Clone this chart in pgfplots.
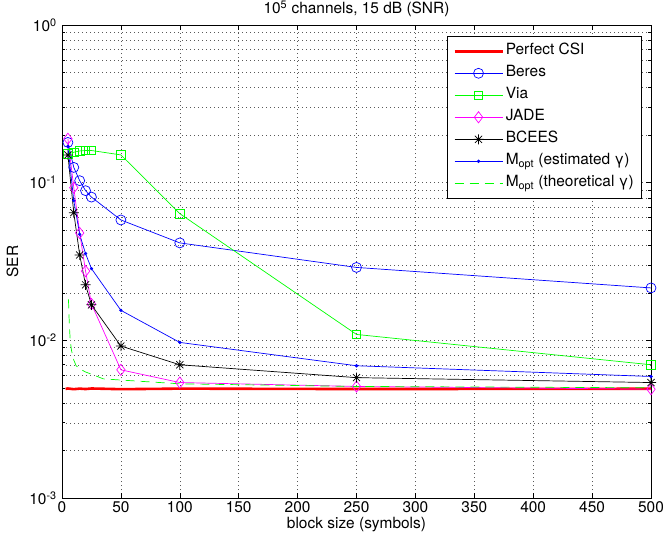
\documentclass[border=0pt]{standalone}
\usepackage{fontspec}
\setmainfont{TeX Gyre Heros}
\usepackage{pgfplots}
\pgfplotsset{compat=1.18}
\definecolor{mgreen}{rgb}{0,1,0}
\definecolor{mmag}{rgb}{1,0,1}
\definecolor{mblue}{rgb}{0,0,1}
\pgfdeclareplotmark{mstar}{%
 \pgfpathmoveto{\pgfqpoint{-\pgfplotmarksize}{0pt}}\pgfpathlineto{\pgfqpoint{\pgfplotmarksize}{0pt}}%
 \pgfpathmoveto{\pgfqpoint{0pt}{-\pgfplotmarksize}}\pgfpathlineto{\pgfqpoint{0pt}{\pgfplotmarksize}}%
 \pgfpathmoveto{\pgfqpoint{-0.707\pgfplotmarksize}{-0.707\pgfplotmarksize}}\pgfpathlineto{\pgfqpoint{0.707\pgfplotmarksize}{0.707\pgfplotmarksize}}%
 \pgfpathmoveto{\pgfqpoint{-0.707\pgfplotmarksize}{0.707\pgfplotmarksize}}\pgfpathlineto{\pgfqpoint{0.707\pgfplotmarksize}{-0.707\pgfplotmarksize}}%
 \pgfusepathqstroke}
\begin{document}
\fontsize{15.5}{18}\selectfont
\begin{tikzpicture}
\useasboundingbox (-62bp,-40bp) rectangle (601bp,498bp);
\begin{axis}[
  at={(0,0)}, anchor=south west,
  scale only axis, width=589bp, height=473bp,
  ymode=log, xmin=0, xmax=500, ymin=1e-3, ymax=1,
  clip=false,
  font=\fontsize{15.5}{18}\selectfont,
  /pgf/number format/assume math mode=true,
  xtick={0,50,...,500},
  ytick={1e-3,1e-2,1e-1,1},
  yticklabels={{10\textsuperscript{-3}},{10\textsuperscript{-2}},{10\textsuperscript{-1}},{10\textsuperscript{0}}},
  xticklabel style={yshift=1.5bp},
  grid=both,
  major grid style={black!65, line width=0.5bp, dash pattern=on 0.8bp off 3.2bp},
  minor grid style={black!65, line width=0.5bp, dash pattern=on 0.8bp off 3.2bp},
  axis line style={line width=0.8bp},
  tick style={line width=0.6bp, black},
  major tick length=5bp, minor tick length=3bp,
  xlabel={block size (symbols)},
  ylabel={SER},
  title={10\textsuperscript{5} channels, 15 dB (SNR)},
  title style={at={(axis description cs:0.5,1)}, anchor=center, yshift=10.5bp},
  xlabel style={at={(axis description cs:0.5,0)}, anchor=center, yshift=-27bp},
  ylabel style={at={(axis description cs:-0.084,0.5)}, anchor=center},
  legend cell align=left,
  legend image code/.code={\draw[mark repeat=2,mark phase=2] plot coordinates {(0bp,0bp) (24bp,0bp) (48bp,0bp)};},
  legend style={at={(0.985,0.977)}, anchor=north east, draw=black, line width=0.8bp, fill=white,
    inner xsep=6bp, inner ysep=4bp, row sep=0bp,
    nodes={inner sep=2bp, text height=12.5bp, text depth=5.5bp},
    font=\fontsize{15.5}{18}\selectfont},
]
\addplot[red, line width=2.6bp] coordinates {
(3,0.00492) (5,0.00495) (10,0.0049) (15,0.00494) (20,0.00491) (25,0.00495) (50,0.0049) (100,0.00494) (250,0.00491) (500,0.00493)};
\addlegendentry{Perfect CSI}
\addplot[mblue, line width=0.7bp, mark=o, mark size=5bp, mark options={solid}] coordinates {
(5,0.18) (10,0.125) (15,0.103) (20,0.089) (25,0.081) (50,0.058) (100,0.0415) (250,0.029) (500,0.0215)};
\addlegendentry{Beres}
\addplot[mgreen, line width=0.7bp, mark=square, mark size=4.2bp, mark options={solid}] coordinates {
(5,0.152) (10,0.156) (15,0.159) (20,0.160) (25,0.160) (50,0.150) (100,0.0636) (250,0.0109) (500,0.0070)};
\addlegendentry{Via}
\addplot[mmag, line width=0.7bp, mark=diamond, mark size=5.6bp, mark options={solid}] coordinates {
(5,0.19) (10,0.093) (15,0.048) (20,0.0275) (25,0.017) (50,0.0065) (100,0.0054) (250,0.0051) (500,0.0049)};
\addlegendentry{JADE}
\addplot[black, line width=0.7bp, mark=mstar, mark size=5bp, mark options={solid}] coordinates {
(5,0.15) (10,0.0645) (15,0.0348) (20,0.0225) (25,0.0168) (50,0.0092) (100,0.0070) (250,0.0058) (500,0.0054)};
\addlegendentry{BCEES}
\addplot[mblue, line width=0.7bp, mark=*, mark size=1.3bp, mark options={solid}] coordinates {
(5,0.17) (10,0.077) (15,0.047) (20,0.0355) (25,0.0285) (50,0.0155) (100,0.0097) (250,0.0069) (500,0.0059)};
\addlegendentry{M\textsubscript{opt} (estimated γ)}
\addplot[mgreen, line width=0.7bp, dash pattern=on 9bp off 6bp] coordinates {
(5.5,0.0182) (6,0.014) (6.5,0.0115) (7,0.0100) (8,0.0087) (9,0.008) (10,0.0075) (12,0.0069) (15,0.0066) (20,0.0063) (25,0.0061) (35,0.0057) (50,0.0056) (100,0.0053) (250,0.0051) (500,0.0050)};
\addlegendentry{M\textsubscript{opt} (theoretical γ)}
\end{axis}
\end{tikzpicture}
\end{document}
